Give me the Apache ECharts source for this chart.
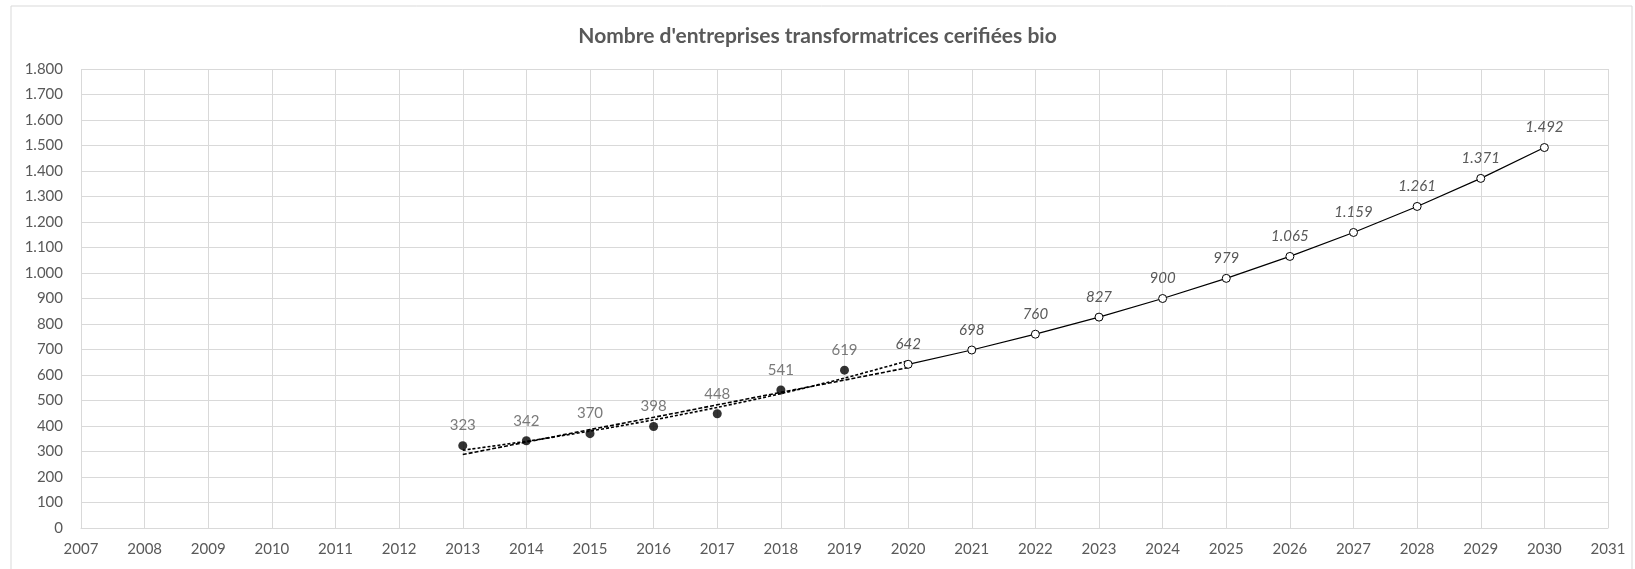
<!DOCTYPE html>
<html>
<head>
<meta charset="utf-8">
<script src="https://cdn.jsdelivr.net/npm/echarts@6/dist/echarts.min.js"></script>
<style>
html,body{margin:0;padding:0;background:#fff;}
#chart{width:1635px;height:569px;}
</style>
</head>
<body>
<div id="chart"></div>
<script>
// valeurs réelles (points noirs)
var actualYears=[2013,2014,2015,2016,2017,2018,2019];
var actualValues=[323,342,370,398,448,541,619];

// prévisions (cercles vides)
var forecastYears=[2020,2021,2022,2023,2024,2025,2026,2027,2028,2029,2030];
var forecastValues=[642,698,760,827,900,979,1065,1159,1261,1371,1492];

// courbes de tendance
var trendYears=[2013,2014,2015,2016,2017,2018,2019,2020];
var trendLinear=[288,337,386,434,483,532,580,629];
var trendExpo=[305,340,380,424,473,527,588,656];

var xMin=2007, xMax=2031;
var yMin=0, yMax=1800, yStep=100;

var titleText="Nombre d'entreprises transformatrices cerifiées bio";

function fmt(v){
    return String(v).replace(/\B(?=(\d{3})+(?!\d))/g,'.');
}
function pairs(xs,ys){
    var out=[];
    for(var i=0;i<xs.length;i++){
        out.push([xs[i],ys[i]]);
    }
    return out;
}

var myChart=echarts.init(document.getElementById('chart'));
var font='Lato, "Open Sans", sans-serif';

var option={
    backgroundColor:'#fff',
    animation:false,
    graphic:[{
        type:'rect',
        shape:{x:11,y:6,width:1621,height:570},
        style:{fill:'none',stroke:'#d9d9d9',lineWidth:1},
        silent:true
    }],
    title:{
        text:titleText,
        left:'center',
        top:21,
        textStyle:{fontFamily:font,fontSize:21,fontWeight:'bold',color:'#595959'}
    },
    grid:{left:81,right:27,top:69,bottom:41,containLabel:false},
    xAxis:{
        type:'value',
        min:xMin,
        max:xMax,
        interval:1,
        axisLine:{show:true,lineStyle:{color:'#d9d9d9'}},
        axisTick:{show:false},
        splitLine:{show:true,lineStyle:{color:'#d9d9d9',width:1}},
        axisLabel:{fontFamily:font,fontSize:15,color:'#595959',margin:14,formatter:function(v){return String(v);}}
    },
    yAxis:{
        type:'value',
        min:yMin,
        max:yMax,
        interval:yStep,
        axisLine:{show:false},
        axisTick:{show:false},
        splitLine:{show:true,lineStyle:{color:'#d9d9d9',width:1}},
        axisLabel:{fontFamily:font,fontSize:15,color:'#595959',margin:18,formatter:function(v){return fmt(v);}}
    },
    series:[{
        name:'tendance linéaire',
        type:'line',
        data:pairs(trendYears,trendLinear),
        symbol:'none',
        lineStyle:{color:'#000',width:1.6,type:[4,2]},
        z:3
    },{
        name:'tendance exponentielle',
        type:'line',
        data:pairs(trendYears,trendExpo),
        symbol:'none',
        smooth:0.3,
        lineStyle:{color:'#000',width:1.6,type:[3,2]},
        z:3
    },{
        name:'prévision',
        type:'line',
        data:pairs(forecastYears,forecastValues),
        symbol:'circle',
        symbolSize:8,
        itemStyle:{color:'#fff',borderColor:'#000',borderWidth:1},
        lineStyle:{color:'#000',width:1.2},
        label:{
            show:true,
            position:'top',
            distance:8,
            fontFamily:font,
            fontSize:15,
            fontStyle:'italic',
            color:'#595959',
            formatter:function(p){return fmt(p.value[1]);}
        },
        z:4
    },{
        name:'réel',
        type:'scatter',
        data:pairs(actualYears,actualValues),
        symbol:'circle',
        symbolSize:9,
        itemStyle:{color:'#000'},
        label:{
            show:true,
            position:'top',
            distance:8,
            fontFamily:font,
            fontSize:15,
            color:'#595959',
            formatter:function(p){return fmt(p.value[1]);}
        },
        z:5
    }]
};

myChart.setOption(option);
</script>
</body>
</html>
